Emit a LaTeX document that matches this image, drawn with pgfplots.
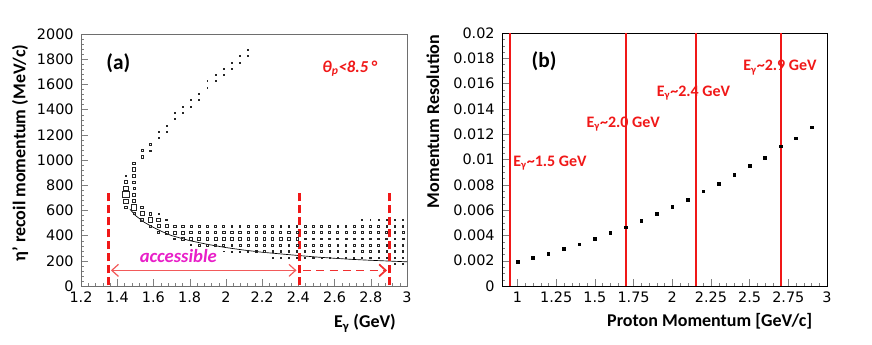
\documentclass[border=0pt]{standalone}
\usepackage{fontspec}
\setmainfont{Carlito}
\newfontfamily\tickfont{DejaVu Sans}
\usepackage{pgfplots}
\pgfplotsset{compat=1.18}
\usetikzlibrary{arrows.meta}

\definecolor{rootred}{HTML}{F01818}
\definecolor{arrred}{HTML}{F25A5A}
\definecolor{magtext}{HTML}{E81FC8}
\definecolor{framegray}{HTML}{6E6E6E}

\newcommand{\tickfnt}{\tickfont\fontsize{10.8}{12}\selectfont}
\newcommand{\labfnt}{\bfseries\fontsize{13.5}{16}\selectfont}

\pgfplotsset{
  rootaxis/.style={
    scale only axis,
    anchor=south west,
    tick pos=left,
    tick align=inside,
    major tick length=5pt,
    minor tick length=2.5pt,
    scaled ticks=false,
    /pgf/number format/assume math mode=true,
    /pgf/number format/1000 sep={},
    clip=false,
  },
}

% eta' recoil momentum: 2D box histogram, bin centres and box half size (pt)
\pgfplotstableread[row sep=\\]{
x y s\\
1.4475 875 0.7\\ 1.4475 825 1.3\\ 1.4475 775 1.8\\ 1.4475 725 2.3\\ 1.4475 675 1.6\\ 1.4475 625 0.8\\
1.4925 975 0.9\\ 1.4925 925 1.3\\ 1.4925 875 1.1\\ 1.4925 825 0.9\\ 1.4925 775 0.8\\ 1.4925 725 0.9\\ 1.4925 675 1.2\\ 1.4925 625 2.0\\ 1.4925 575 0.8\\
1.5375 1075 0.7\\ 1.5375 1025 0.8\\ 1.5375 625 1.0\\ 1.5375 575 1.5\\ 1.5375 525 1.2\\
1.5825 1125 0.6\\ 1.5825 1075 0.5\\ 1.5825 575 1.1\\ 1.5825 525 1.8\\ 1.5825 475 0.8\\
1.6275 1225 0.4\\ 1.6275 1175 0.4\\ 1.6275 575 0.4\\ 1.6275 525 1.4\\ 1.6275 475 1.2\\ 1.6275 425 0.6\\
1.6725 1275 0.4\\ 1.6725 1225 0.4\\ 1.6725 525 0.7\\ 1.6725 475 1.1\\ 1.6725 425 1.1\\
1.7175 1375 0.35\\ 1.7175 1325 0.35\\ 1.7175 475 0.9\\ 1.7175 425 1.1\\ 1.7175 375 0.7\\
1.7625 1425 0.4\\ 1.7625 1375 0.4\\ 1.7625 475 0.9\\ 1.7625 425 1.1\\ 1.7625 375 1.0\\
1.8075 1475 0.4\\ 1.8075 1425 0.35\\ 1.8075 475 0.8\\ 1.8075 425 1.0\\ 1.8075 375 1.1\\ 1.8075 325 0.4\\
1.8525 1525 0.35\\ 1.8525 1475 0.35\\ 1.8525 475 0.8\\ 1.8525 425 1.0\\ 1.8525 375 1.1\\ 1.8525 325 0.6\\
1.8975 1625 0.35\\ 1.8975 1575 0.35\\ 1.8975 475 0.7\\ 1.8975 425 1.0\\ 1.8975 375 1.0\\ 1.8975 325 0.7\\
1.9425 1675 0.35\\ 1.9425 1625 0.35\\ 1.9425 475 0.7\\ 1.9425 425 0.9\\ 1.9425 375 1.0\\ 1.9425 325 0.7\\
1.9875 1725 0.35\\ 1.9875 1675 0.35\\ 1.9875 475 0.7\\ 1.9875 425 0.9\\ 1.9875 375 1.0\\ 1.9875 325 0.7\\ 1.9875 275 0.3\\
2.0325 1775 0.35\\ 2.0325 1725 0.35\\ 2.0325 475 0.6\\ 2.0325 425 0.9\\ 2.0325 375 0.9\\ 2.0325 325 0.7\\ 2.0325 275 0.4\\
2.0775 1825 0.35\\ 2.0775 1775 0.35\\ 2.0775 475 0.6\\ 2.0775 425 0.9\\ 2.0775 375 0.9\\ 2.0775 325 0.7\\ 2.0775 275 0.4\\
2.1225 1875 0.35\\ 2.1225 1825 0.35\\ 2.1225 475 0.6\\ 2.1225 425 0.8\\ 2.1225 375 0.9\\ 2.1225 325 0.7\\ 2.1225 275 0.5\\
2.1675 475 0.6\\ 2.1675 425 0.8\\ 2.1675 375 0.9\\ 2.1675 325 0.7\\ 2.1675 275 0.5\\
2.2125 475 0.6\\ 2.2125 425 0.8\\ 2.2125 375 0.9\\ 2.2125 325 0.7\\ 2.2125 275 0.5\\
2.2575 475 0.6\\ 2.2575 425 0.8\\ 2.2575 375 0.9\\ 2.2575 325 0.7\\ 2.2575 275 0.5\\ 2.2575 225 0.3\\
2.3025 475 0.6\\ 2.3025 425 0.8\\ 2.3025 375 0.9\\ 2.3025 325 0.7\\ 2.3025 275 0.5\\ 2.3025 225 0.3\\
2.3475 475 0.6\\ 2.3475 425 0.8\\ 2.3475 375 0.8\\ 2.3475 325 0.7\\ 2.3475 275 0.5\\ 2.3475 225 0.35\\
2.3925 475 0.6\\ 2.3925 425 0.8\\ 2.3925 375 0.8\\ 2.3925 325 0.7\\ 2.3925 275 0.5\\ 2.3925 225 0.35\\
2.4375 475 0.6\\ 2.4375 425 0.7\\ 2.4375 375 0.7\\ 2.4375 325 0.6\\ 2.4375 275 0.5\\ 2.4375 225 0.4\\
2.4825 475 0.6\\ 2.4825 425 0.7\\ 2.4825 375 0.7\\ 2.4825 325 0.6\\ 2.4825 275 0.5\\ 2.4825 225 0.4\\
2.5275 475 0.6\\ 2.5275 425 0.7\\ 2.5275 375 0.7\\ 2.5275 325 0.6\\ 2.5275 275 0.5\\ 2.5275 225 0.4\\
2.5725 475 0.6\\ 2.5725 425 0.7\\ 2.5725 375 0.7\\ 2.5725 325 0.6\\ 2.5725 275 0.5\\ 2.5725 225 0.4\\
2.6175 475 0.6\\ 2.6175 425 0.7\\ 2.6175 375 0.7\\ 2.6175 325 0.6\\ 2.6175 275 0.5\\ 2.6175 225 0.4\\
2.6625 475 0.6\\ 2.6625 425 0.7\\ 2.6625 375 0.7\\ 2.6625 325 0.6\\ 2.6625 275 0.5\\ 2.6625 225 0.4\\
2.7075 475 0.6\\ 2.7075 425 0.7\\ 2.7075 375 0.7\\ 2.7075 325 0.6\\ 2.7075 275 0.5\\ 2.7075 225 0.4\\
2.7525 525 0.3\\ 2.7525 475 0.6\\ 2.7525 425 0.7\\ 2.7525 375 0.7\\ 2.7525 325 0.6\\ 2.7525 275 0.5\\ 2.7525 225 0.45\\
2.7975 525 0.35\\ 2.7975 475 0.6\\ 2.7975 425 0.7\\ 2.7975 375 0.7\\ 2.7975 325 0.6\\ 2.7975 275 0.5\\ 2.7975 225 0.45\\
2.8425 525 0.45\\ 2.8425 475 0.6\\ 2.8425 425 0.7\\ 2.8425 375 0.7\\ 2.8425 325 0.6\\ 2.8425 275 0.5\\ 2.8425 225 0.45\\
2.8875 525 0.45\\ 2.8875 475 0.6\\ 2.8875 425 0.7\\ 2.8875 375 0.7\\ 2.8875 325 0.6\\ 2.8875 275 0.5\\ 2.8875 225 0.45\\
2.9325 525 0.45\\ 2.9325 475 0.6\\ 2.9325 425 0.7\\ 2.9325 375 0.7\\ 2.9325 325 0.6\\ 2.9325 275 0.5\\ 2.9325 225 0.45\\ 2.9325 175 0.3\\
2.9775 525 0.45\\ 2.9775 475 0.6\\ 2.9775 425 0.7\\ 2.9775 375 0.7\\ 2.9775 325 0.6\\ 2.9775 275 0.5\\ 2.9775 225 0.45\\ 2.9775 175 0.3\\
}\boxdata

% kinematic lower edge (solid line)
\pgfplotstableread[row sep=\\]{
x y\\
1.47 610\\ 1.50 560\\ 1.55 505\\ 1.60 465\\ 1.65 430\\ 1.70 400\\ 1.80 360\\
1.90 330\\ 2.00 305\\ 2.10 285\\ 2.20 268\\ 2.30 255\\ 2.40 242\\ 2.50 230\\
2.60 220\\ 2.70 211\\ 2.80 204\\ 2.90 198\\ 3.00 192\\
}\edgedata

% proton momentum resolution
\pgfplotstableread[row sep=\\]{
p res\\
1.0 0.00190\\ 1.1 0.00222\\ 1.2 0.00256\\ 1.3 0.00293\\ 1.4 0.00330\\
1.5 0.00375\\ 1.6 0.00423\\ 1.7 0.00465\\ 1.8 0.00515\\ 1.9 0.00570\\
2.0 0.00629\\ 2.1 0.00684\\ 2.2 0.00748\\ 2.3 0.00808\\ 2.4 0.00880\\
2.5 0.00948\\ 2.6 0.01015\\ 2.7 0.01104\\ 2.8 0.01168\\ 2.9 0.01255\\
}\resdata

\begin{document}
\begin{tikzpicture}
\useasboundingbox (0pt,0pt) rectangle (654pt,258pt);

% ---------------- (a) ----------------
\begin{axis}[rootaxis,
  at={(60.75pt,43.5pt)},
  width=244.5pt, height=189pt,
  axis line style={framegray},
  xmin=1.2, xmax=3, ymin=0, ymax=2000,
  xtick={1.2,1.4,1.6,1.8,2,2.2,2.4,2.6,2.8,3},
  ytick={0,200,...,2000},
  minor x tick num=4, minor y tick num=4,
  xticklabel style={font=\tickfnt, yshift=-1pt, /pgf/number format/fixed, /pgf/number format/precision=1},
  yticklabel style={font=\tickfnt, xshift=-2pt},
  xlabel={E\textsubscript{γ} (GeV)},
  ylabel={η’ recoil momentum (MeV/c)},
  every axis x label/.style={at={(axis description cs:0.871,-0.147)},anchor=center,font=\labfnt},
  every axis y label/.style={at={(axis description cs:-0.187,0.528)},anchor=center,rotate=90,font=\labfnt},
]
\addplot[scatter, only marks, mark=square,
  mark options={line width=0.45pt},
  scatter/use mapped color={draw=black!85,fill=white},
  visualization depends on={\thisrow{s}\as\ms},
  scatter/@pre marker code/.append style={/tikz/mark size=\ms}]
  table[x=x,y=y,meta=s] {\boxdata};
\addplot[black, line width=0.5pt, no marks] table[x=x,y=y] {\edgedata};

\draw[rootred, line width=2.3pt, dash pattern=on 6pt off 3pt]
  (axis cs:1.35,5) -- (axis cs:1.35,760);
\draw[rootred, line width=2.3pt, dash pattern=on 6pt off 3pt]
  (axis cs:2.405,5) -- (axis cs:2.405,748);
\draw[rootred, line width=2.3pt, dash pattern=on 6pt off 3pt]
  (axis cs:2.905,5) -- (axis cs:2.905,765);
\draw[arrred, line width=0.9pt, {Straight Barb[length=5pt,width=9pt]}-{Straight Barb[length=5pt,width=9pt]}]
  (axis cs:1.365,124) -- (axis cs:2.39,124);
\draw[rootred!90, line width=1.3pt, dash pattern=on 6pt off 4pt, -{Straight Barb[length=5pt,width=9pt]}]
  (axis cs:2.425,124) -- (axis cs:2.89,124);

\node[magtext, font=\bfseries\itshape\fontsize{14}{16}\selectfont] at (axis cs:1.737,238) {accessible};
\node[font=\bfseries\fontsize{16}{19}\selectfont] at (axis cs:1.406,1767) {(a)};
\node[rootred, font=\bfseries\itshape\fontsize{12.5}{15}\selectfont] at (axis cs:2.683,1727) {θ\textsubscript{p}<8.5\,°};
\end{axis}

% ---------------- (b) ----------------
\begin{axis}[rootaxis,
  at={(376.5pt,43.5pt)},
  width=243.75pt, height=189.75pt,
  xmin=0.9, xmax=3, ymin=0, ymax=0.02,
  xtick={1,1.25,...,3},
  ytick={0,0.002,...,0.0201},
  minor x tick num=4, minor y tick num=3,
  yticklabel style={font=\tickfnt, xshift=-2pt, /pgf/number format/fixed, /pgf/number format/precision=3},
  xticklabel style={font=\tickfnt, yshift=-1pt, /pgf/number format/fixed, /pgf/number format/precision=2},
  xlabel={Proton Momentum [GeV/c]},
  ylabel={Momentum Resolution},
  every axis x label/.style={at={(axis description cs:0.639,-0.141)},anchor=center,font=\labfnt},
  every axis y label/.style={at={(axis description cs:-0.213,0.65)},anchor=center,rotate=90,font=\labfnt},
]
\addplot[only marks, mark=square*, mark size=1pt, black] table[x=p,y=res] {\resdata};

\draw[rootred, line width=1.4pt] (axis cs:0.95,0) -- (axis cs:0.95,0.02);
\draw[rootred, line width=1.4pt] (axis cs:1.70,0) -- (axis cs:1.70,0.02);
\draw[rootred, line width=1.4pt] (axis cs:2.155,0) -- (axis cs:2.155,0.02);
\draw[rootred, line width=1.4pt] (axis cs:2.70,0) -- (axis cs:2.70,0.02);

\begin{scope}[every node/.style={rootred, anchor=west, inner sep=0pt, font=\bfseries\fontsize{12}{14}\selectfont}]
\node at (axis cs:0.972,0.0097) {E\textsubscript{γ}\textasciitilde1.5 GeV};
\node at (axis cs:1.445,0.0128) {E\textsubscript{γ}\textasciitilde2.0 GeV};
\node at (axis cs:1.899,0.01524) {E\textsubscript{γ}\textasciitilde2.4 GeV};
\node at (axis cs:2.458,0.01728) {E\textsubscript{γ}\textasciitilde2.9 GeV};
\end{scope}
\node[font=\bfseries\fontsize{16}{19}\selectfont] at (axis cs:1.172,0.01775) {(b)};
\end{axis}
\end{tikzpicture}
\end{document}
